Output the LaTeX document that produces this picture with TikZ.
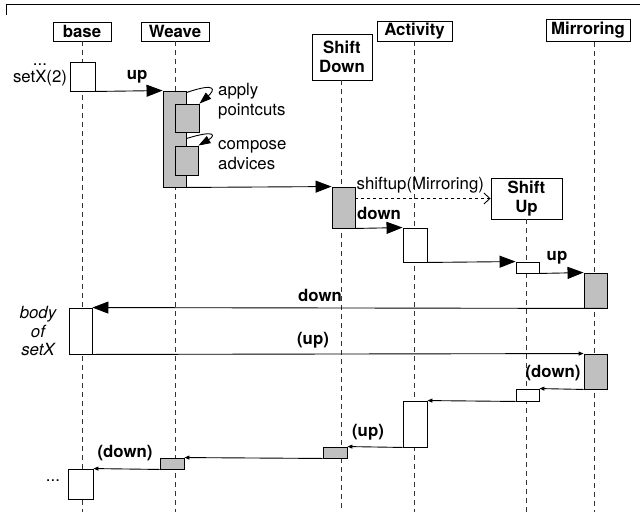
\documentclass[tikz,border=0pt]{standalone}
\usepackage{fontspec}
\setmainfont{TeX Gyre Heros}
\usetikzlibrary{arrows.meta,calc}
\definecolor{actgray}{RGB}{192,192,192}
\begin{document}
\begin{tikzpicture}[x=1pt,y=-1pt,
  every node/.style={font=\fontsize{16.8}{19.5}\selectfont},
  hdr/.style={draw,line width=0.9pt,fill=white,inner sep=0pt,align=center,font=\fontsize{16.8}{19.5}\selectfont\bfseries},
  act/.style={draw,line width=0.9pt,fill=white,inner sep=0pt},
  gact/.style={act,fill=actgray},
  life/.style={line width=0.9pt,dash pattern=on 5pt off 4pt,black!80},
  msg/.style={line width=0.9pt,-{Triangle[length=16pt,width=12pt]}},
  ret/.style={line width=0.9pt,-{Triangle[length=5pt,width=4pt]}},
  selfmsg/.style={line width=0.9pt,-{Triangle[length=12pt,width=8pt]}},
  lbl/.style={font=\fontsize{16.8}{19.5}\selectfont\bfseries,inner sep=0pt}
]
\useasboundingbox (0,0) rectangle (640,520);
% frame
\draw[line width=0.9pt] (6,15) -- (6,4.5) -- (640,4.5);
\coordinate (end) at (0,512);
% headers
\node[hdr,minimum width=58pt,minimum height=19pt] (base) at (82,31.5) {base};
\node[hdr,minimum width=68pt,minimum height=19pt] (weave) at (175,31.5) {Weave};
\node[hdr,minimum width=60pt,minimum height=46pt] (sd) at (342,57) {Shift\\Down};
\node[hdr,minimum width=75pt,minimum height=20pt] (act) at (414.5,31) {Activity};
\node[hdr,minimum width=84pt,minimum height=22pt] (mir) at (588,30.5) {Mirroring};
\node[hdr,minimum width=71pt,minimum height=41pt] (su) at (526.5,198.5) {Shift\\Up};
% lifelines
\draw[life] (base.south) -- (base.south |- end);
\draw[life] (weave.south) -- (weave.south |- end);
\draw[life] ([xshift=-1pt]sd.south) -- ([xshift=-1pt]sd.south |- end);
\draw[life] (act.south) -- (act.south |- end);
\draw[life] ([xshift=6pt]mir.south) -- ([xshift=6pt]mir.south |- end);
\draw[life] (su.south) -- (su.south |- end);
% activations
\node[act,minimum width=25pt,minimum height=29pt] (b1) at (82.5,76.5) {};
\node[gact,minimum width=23pt,minimum height=96pt] (w1) at (174.5,139) {};
\node[gact,minimum width=24pt,minimum height=28pt] (w1a) at (187,118) {};
\node[gact,minimum width=23pt,minimum height=29pt] (w1b) at (186.5,160.5) {};
\node[gact,minimum width=23pt,minimum height=41pt] (sd1) at (343.5,207.5) {};
\node[act,minimum width=24pt,minimum height=34pt] (a1) at (415,245) {};
\node[act,minimum width=23pt,minimum height=11pt] (su1) at (527.5,267.5) {};
\node[gact,minimum width=23pt,minimum height=35pt] (m1) at (595.5,290.5) {};
\node[act,minimum width=23pt,minimum height=46pt] (b2) at (80.5,331) {};
\node[gact,minimum width=23pt,minimum height=35pt] (m2) at (595.5,371.5) {};
\node[act,minimum width=23pt,minimum height=12pt] (su2) at (527.5,395) {};
\node[act,minimum width=24pt,minimum height=46pt] (a2) at (415,424) {};
\node[gact,minimum width=24pt,minimum height=11pt] (sd2) at (335,452.5) {};
\node[gact,minimum width=24pt,minimum height=11pt] (w2) at (172,463.5) {};
\node[act,minimum width=25pt,minimum height=30pt] (b3) at (80.5,484) {};
% side texts
\node[align=center,inner sep=0pt] (start) at (40,75) {...\\[-3pt]setX(2)};
\node[align=center,inner sep=0pt,font=\fontsize{16.8}{18.5}\selectfont\itshape] (body) at (38,331) {body\\of\\setX};
\node[inner sep=0pt] (dots) at (53,481) {...};
% messages
\draw[msg] (b1.south east) -- (w1.north west) node[lbl,pos=0.62,above=7pt] (lup1) {up};
\draw[selfmsg] ($(w1.north east)+(0,2)$) .. controls (217,82) and (215,90) .. (w1a.north east);
\draw[selfmsg] ($(w1.north east)+(0,48)$) .. controls (217,129) and (215,136) .. (w1b.north east);
\node[align=left,anchor=west,inner sep=0pt] (lap) at (218,101) {apply\\pointcuts};
\node[align=left,anchor=west,inner sep=0pt] (lca) at (218,155) {compose\\advices};
\draw[msg] (w1.south east) -- (sd1.north west);
\draw[line width=0.9pt,dashed,-{Straight Barb[length=6pt,width=11pt]}] (sd1.north east |- su.west) -- (su.west)
  node[inner sep=0pt,pos=0.48,above=5pt] (lshift) {shiftup(Mirroring)};
\draw[msg] (sd1.south east) -- (a1.north west) node[lbl,pos=0.5,above=8pt] (ldown1) {down};
\draw[msg] (a1.south east) -- (su1.north west);
\draw[msg] (su1.south east) -- (m1.north west);
\node[lbl] (lup2) at (557,258) {up};
\draw[msg] (m1.south east) -- (b2.north east);
\node[lbl] (ldown2) at (320,295) {down};
\draw[ret] (b2.south east) -- (m2.north west);
\node[lbl] (lup3) at (313,340) {(up)};
\draw[ret] (m2.south west) -- (su2.north east);
\node[lbl] (ldown3) at (553,373) {(down)};
\draw[ret] (su2.south west) -- (a2.north east);
\draw[ret] (a2.south west) -- (sd2.north east);
\node[lbl] (lup4) at (368,432) {(up)};
\draw[ret] (sd2.south west) -- (w2.north east);
\draw[ret] (w2.south west) -- (b3.north east);
\node[lbl] (ldown4) at (125,453) {(down)};
\end{tikzpicture}
\end{document}
